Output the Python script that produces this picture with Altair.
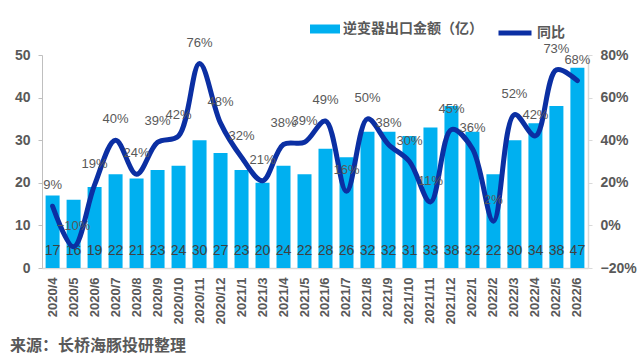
import altair as alt
import pandas as pd

months = ["2020/4", "2020/5", "2020/6", "2020/7", "2020/8", "2020/9", "2020/10",
          "2020/11", "2020/12", "2021/1", "2021/3", "2021/4", "2021/5", "2021/6",
          "2021/7", "2021/8", "2021/9", "2021/10", "2021/11", "2021/12", "2022/1",
          "2022/2", "2022/3", "2022/4", "2022/5", "2022/6"]
export_value = [17, 16, 19, 22, 21, 23, 24, 30, 27, 23, 20, 24, 22, 28, 26, 32,
                32, 31, 33, 38, 32, 22, 30, 34, 38, 47]
yoy = [0.09, -0.10, 0.19, 0.40, 0.24, 0.39, 0.42, 0.76, 0.48, 0.32, 0.21, 0.38,
       0.39, 0.49, 0.16, 0.50, 0.38, 0.30, 0.11, 0.45, 0.36, 0.02, 0.52, 0.42,
       0.73, 0.68]

BAR_NAME = "逆变器出口金额（亿）"
LINE_NAME = "同比"
SOURCE = "来源：长桥海豚投研整理"

df = pd.DataFrame({
    "month": months,
    "value": export_value,
    "yoy": yoy,
    "s1": BAR_NAME,
    "s2": LINE_NAME,
})

FONT = "Noto Sans CJK SC"
NUMFONT = "Liberation Sans"
GRAY = "#595959"

x_enc = alt.X("month:N", sort=months, title=None,
              scale=alt.Scale(paddingInner=0.33, paddingOuter=0.17),
              axis=alt.Axis(labelAngle=270, labelFontSize=13, labelFontWeight="bold",
                            labelColor=GRAY, labelFont=NUMFONT, ticks=False,
                            domainColor="#D9D9D9", domainWidth=1.5, labelPadding=9))

left_y = alt.Scale(domain=[0, 50])
right_y = alt.Scale(domain=[-0.2, 0.8])

bars = alt.Chart(df).mark_bar(size=14).encode(
    x=x_enc,
    y=alt.Y("value:Q", scale=left_y, title=None,
            axis=alt.Axis(values=[0, 10, 20, 30, 40, 50], grid=False, orient="left",
                          labelFontSize=14, labelFontWeight="bold", labelColor=GRAY,
                          labelFont=NUMFONT, domainColor="#BFBFBF", tickColor="#BFBFBF",
                          tickSize=4, labelPadding=8)),
    color=alt.Color("s1:N", scale=alt.Scale(domain=[BAR_NAME], range=["#00B0F0"]),
                    legend=alt.Legend(title=None, orient="none", legendX=268, legendY=-41,
                                      symbolType="M-1,-0.3H1V0.3H-1Z", symbolSize=900,
                                      symbolStrokeWidth=0, labelFontSize=14,
                                      labelFontWeight="bold", labelColor=GRAY,
                                      labelFont=FONT, labelLimit=300, labelOffset=3)),
)

bar_labels = alt.Chart(df).mark_text(fontSize=14, color="#404040", font=NUMFONT,
                                     baseline="middle").encode(
    x=alt.X("month:N", sort=months),
    y=alt.datum(4, scale=left_y),
    text=alt.Text("value:Q"),
)

source = alt.Chart(pd.DataFrame({"t": [SOURCE]})).mark_text(
    fontSize=16, fontWeight="bold", color=GRAY, font=FONT, align="left",
    baseline="middle").encode(
    x=alt.value(-32), y=alt.value(291), text="t:N")

line = alt.Chart(df).mark_line(strokeWidth=5, interpolate="catmull-rom",
                               strokeJoin="round", strokeCap="round").encode(
    x=alt.X("month:N", sort=months),
    y=alt.Y("yoy:Q", scale=right_y, title=None,
            axis=alt.Axis(values=[-0.2, 0, 0.2, 0.4, 0.6, 0.8], format=".0%", grid=False,
                          orient="right", labelFontSize=14, labelFontWeight="bold",
                          labelColor=GRAY, labelFont=NUMFONT, domainColor="#D9D9D9",
                          domainWidth=1.5, tickColor="#D9D9D9", tickSize=4,
                          labelPadding=8)),
    stroke=alt.Stroke("s2:N", scale=alt.Scale(domain=[LINE_NAME], range=["#0B2FA3"]),
                      legend=alt.Legend(title=None, orient="none", legendX=454, legendY=-41,
                                        symbolType="stroke", symbolSize=1089,
                                        symbolStrokeWidth=5, labelFontSize=14,
                                        labelFontWeight="bold", labelColor=GRAY,
                                        labelFont=FONT, labelOffset=3)),
)

pct_labels = alt.Chart(df).mark_text(fontSize=13, color=GRAY, font=NUMFONT, dy=-21,
                                     baseline="middle").encode(
    x=alt.X("month:N", sort=months),
    y=alt.Y("yoy:Q", scale=right_y),
    text=alt.Text("yoy:Q", format=".0%"),
)

left = alt.layer(bars, bar_labels, source)
right = alt.layer(line, pct_labels)

chart = alt.layer(left, right).resolve_scale(
    y="independent", color="independent", stroke="independent"
).properties(
    width=546, height=213,
    autosize=alt.AutoSizeParams(type="none"),
    padding={"left": 42, "top": 55, "right": 52, "bottom": 90},
    background="white",
).configure_view(stroke=None)

chart.save("out.html", embed_options={"renderer": "svg", "actions": False})
